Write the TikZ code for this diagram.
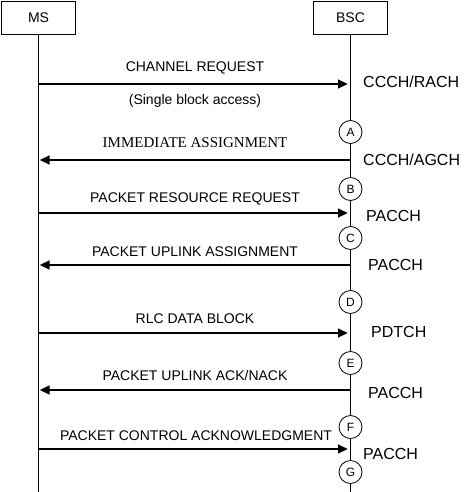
\documentclass[tikz,border=0pt]{standalone}
\usepackage{fontspec}
\setmainfont{Liberation Sans}
\newfontfamily\serifmsg{Liberation Serif}
\usetikzlibrary{arrows.meta}

\begin{document}
\begin{tikzpicture}[x=1pt,y=-1pt,
  every node/.style={inner sep=0pt},
  entity/.style={draw,line width=0.8pt,minimum width=74pt,minimum height=33pt,font=\fontsize{14}{16}\selectfont},
  lifeline/.style={line width=0.8pt},
  msg/.style={line width=2.6pt,-{Triangle[length=10pt,width=8.5pt]}},
  msglabel/.style={anchor=base,font=\fontsize{14}{16}\selectfont},
  chan/.style={anchor=base west,font=\fontsize{16}{18}\selectfont},
  stage/.style={draw,circle,line width=0.8pt,fill=white,minimum size=23pt,font=\fontsize{12}{14}\selectfont}]
\useasboundingbox (0,0) rectangle (469,492);
% entities and lifelines
\node[entity] (ms) at (38.5,17.5) {MS};
\node[entity] (bsc) at (350.5,17.5) {BSC};
\coordinate (msbot) at (38.5,492);
\coordinate (bscbot) at (350.5,492);
\draw[lifeline] (ms.south) -- (msbot);
\draw[lifeline] (bsc.south) -- (bscbot);
% stages on the BSC side
\node[stage] (sa) at (350.5,132) {A};
\node[stage] (sb) at (350.5,189) {B};
\node[stage] (sc) at (350.5,238) {C};
\node[stage] (sd) at (350.5,302) {D};
\node[stage] (se) at (350.5,363) {E};
\node[stage] (sf) at (350.5,427) {F};
\node[stage] (sg) at (350.5,472) {G};
% message end points
\coordinate (m1) at (38.5,84);  \coordinate (b1) at (350.5,84);
\coordinate (m2) at (38.5,160); \coordinate (b2) at (350.5,160);
\coordinate (m3) at (38.5,213); \coordinate (b3) at (350.5,213);
\coordinate (m4) at (38.5,265); \coordinate (b4) at (350.5,265);
\coordinate (m5) at (38.5,333); \coordinate (b5) at (350.5,333);
\coordinate (m6) at (38.5,390); \coordinate (b6) at (350.5,390);
\coordinate (m7) at (38.5,449); \coordinate (b7) at (350.5,449);
% messages
\draw[msg,shorten >=2.5pt] (m1) -- (b1);
\node[msglabel] (l1) at (195,72) {CHANNEL REQUEST};
\node[msglabel] (l1b) at (195,105) {(Single block access)};
\node[chan] (c1) at (363,88) {CCCH/RACH};
\draw[msg,shorten >=1pt] (b2) -- (m2);
\node[msglabel,font=\serifmsg\fontsize{15}{17}\selectfont] (l2) at (195,147) {IMMEDIATE ASSIGNMENT};
\node[chan] (c2) at (363,165) {CCCH/AGCH};
\draw[msg,shorten >=2.5pt] (m3) -- (b3);
\node[msglabel] (l3) at (195,202) {PACKET RESOURCE REQUEST};
\node[chan] (c3) at (366,221) {PACCH};
\draw[msg,shorten >=1pt] (b4) -- (m4);
\node[msglabel] (l4) at (195,256) {PACKET UPLINK ASSIGNMENT};
\node[chan] (c4) at (368,270) {PACCH};
\draw[msg,shorten >=2.5pt] (m5) -- (b5);
\node[msglabel] (l5) at (195,323) {RLC DATA BLOCK};
\node[chan] (c5) at (371,337) {PDTCH};
\draw[msg,shorten >=1pt] (b6) -- (m6);
\node[msglabel] (l6) at (195,380) {PACKET UPLINK ACK/NACK};
\node[chan] (c6) at (368,398) {PACCH};
\draw[msg,shorten >=2.5pt] (m7) -- (b7);
\node[msglabel] (l7) at (196,440) {PACKET CONTROL ACKNOWLEDGMENT};
\node[chan] (c7) at (363,459) {PACCH};
\end{tikzpicture}
\end{document}
